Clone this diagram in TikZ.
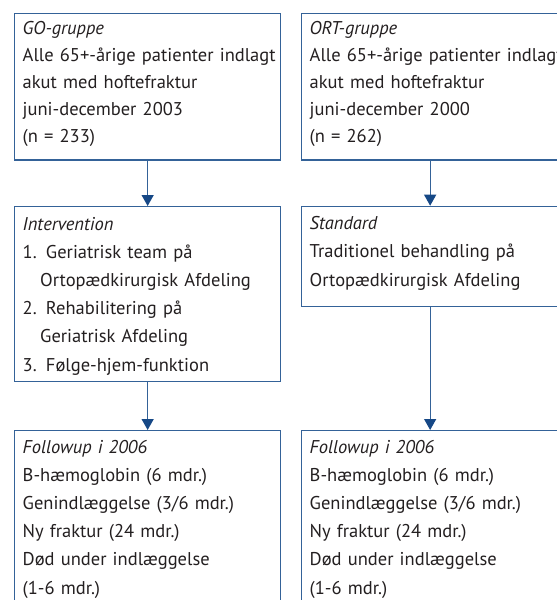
\documentclass[tikz,border=0pt]{standalone}
\usepackage{fontspec}
\setmainfont{PT Sans}
\usetikzlibrary{arrows.meta}

\definecolor{boxblue}{RGB}{52,98,152}
\definecolor{arrowblue}{RGB}{22,72,134}
\definecolor{txtgray}{RGB}{35,31,32}

\tikzset{
	box/.style={draw=boxblue, line width=1.3pt, inner sep=0pt, anchor=north west},
	txt/.style={anchor=base west, text width=320pt, align=left, inner sep=0pt, text=txtgray,
		font=\fontsize{18.5}{28.2}\selectfont},
	flow/.style={draw=boxblue, line width=1.3pt, -{Triangle[width=12pt,length=11pt,color=arrowblue]}},
}
\newcommand{\ind}{\hspace*{17.5pt}}

\begin{document}
\begin{tikzpicture}[x=1pt,y=-1pt]
	\useasboundingbox (0,0) rectangle (557,600);
	\clip (0,0) rectangle (557,600);

	% GO-gruppe
	\node[box, minimum width=266pt, minimum height=146.8pt] (go) at (14,12.5) {};
	\node[box, minimum width=266pt, minimum height=174.7pt] (interv) at (14,206) {};
	\node[box, minimum width=266pt, minimum height=190pt] (gofu) at (14,430) {};
	\node[txt, font=\fontsize{18.5}{27}\selectfont] (go-t) at ([xshift=8.5pt,yshift=-22pt]go.north west)
		{\textit{GO-gruppe}\\Alle 65+-årige patienter indlagt\\akut med hoftefraktur\\juni-december 2003\\(n = 233)};
	\node[txt] (interv-t) at ([xshift=8.5pt,yshift=-24pt]interv.north west)
		{\textit{Intervention}\\1. Geriatrisk team på\\\ind Ortopædkirurgisk Afdeling\\2. Rehabilitering på\\\ind Geriatrisk Afdeling\\3. Følge-hjem-funktion};
	\node[txt] (gofu-t) at ([xshift=8.5pt,yshift=-23pt]gofu.north west)
		{\textit{Followup i 2006}\\B-hæmoglobin (6 mdr.)\\Genindlæggelse (3/6 mdr.)\\Ny fraktur (24 mdr.)\\Død under indlæggelse\\(1-6 mdr.)};

	% ORT-gruppe
	\node[box, minimum width=257pt, minimum height=146.8pt] (ort) at (301,12.5) {};
	\node[box, minimum width=257pt, minimum height=100pt] (std) at (301,205.7) {};
	\node[box, minimum width=257pt, minimum height=190pt] (ortfu) at (301,430) {};
	\node[txt, font=\fontsize{18.5}{27}\selectfont] (ort-t) at ([xshift=8.5pt,yshift=-22pt]ort.north west)
		{\textit{ORT-gruppe}\\Alle 65+-årige patienter indlagt\\akut med hoftefraktur\\juni-december 2000\\(n = 262)};
	\node[txt] (std-t) at ([xshift=8.5pt,yshift=-24pt]std.north west)
		{\textit{Standard}\\Traditionel behandling på\\Ortopædkirurgisk Afdeling};
	\node[txt] (ortfu-t) at ([xshift=8.5pt,yshift=-23pt]ortfu.north west)
		{\textit{Followup i 2006}\\B-hæmoglobin (6 mdr.)\\Genindlæggelse (3/6 mdr.)\\Ny fraktur (24 mdr.)\\Død under indlæggelse\\(1-6 mdr.)};

	\draw[flow] (go.south) -- (interv.north);
	\draw[flow] (interv.south) -- (gofu.north);
	\draw[flow] (ort.south) -- (std.north);
	\draw[flow] (std.south) -- (ortfu.north);
\end{tikzpicture}
\end{document}
